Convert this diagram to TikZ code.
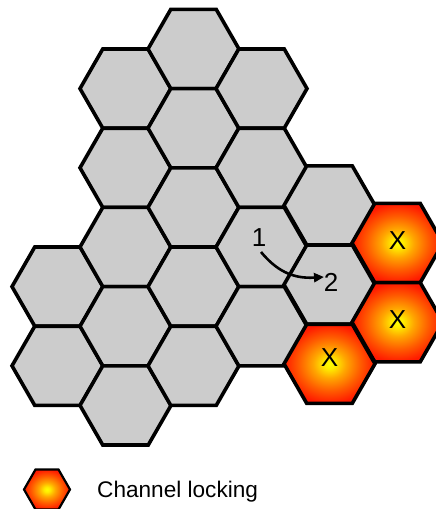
\documentclass[tikz,border=0pt]{standalone}
\usepackage{fontspec}
\setmainfont{Liberation Sans}
\usetikzlibrary{arrows.meta}
\definecolor{cellgrey}{RGB}{204,204,204}
\pgfdeclareradialshading{lockshade}{\pgfpoint{0bp}{0bp}}{rgb(0bp)=(1,1,0); rgb(3bp)=(1,0.93,0); rgb(9bp)=(1,0.65,0); rgb(17bp)=(1,0.36,0); rgb(25bp)=(1,0.1,0); rgb(50bp)=(1,0.06,0)}
\tikzset{
  hexline/.style={line width=3.6pt},
  greyhex/.pic={\draw[hexline, fill=cellgrey] (-45.5,0) -- (-22.75,-39.6) -- (22.75,-39.6) -- (45.5,0) -- (22.75,39.6) -- (-22.75,39.6) -- cycle;},
  lockhex/.pic={\draw[hexline, shading=lockshade] (-45.5,0) -- (-22.75,-39.6) -- (22.75,-39.6) -- (45.5,0) -- (22.75,39.6) -- (-22.75,39.6) -- cycle;},
  celltext/.style={inner sep=0pt, font=\fontsize{26}{30}\selectfont},
  legendtext/.style={inner sep=0pt, anchor=base west, font=\fontsize{22.6}{27}\selectfont},
  movearrow/.style={line width=2.6pt, -{Triangle[length=10pt,width=9pt]}}
}
\begin{document}
\begin{tikzpicture}[x=1pt,y=-1pt]
\useasboundingbox (0,0) rectangle (436,509);
\clip (0,0) rectangle (436,509);
% grey cells
\foreach \cx/\cy in {57.5/286.6, 57.5/365.8,
  125.5/88.6, 125.5/167.8, 125.5/247, 125.5/326.2, 125.5/405.4,
  193.5/49, 193.5/128.2, 193.5/207.4, 193.5/286.6, 193.5/365.8,
  261.5/88.6, 261.5/167.8, 261.5/247, 261.5/326.2,
  329.5/205.4, 329.5/284.6}
  \pic at (\cx,\cy) {greyhex};
% locked cells
\pic (lockA) at (397.5,243) {lockhex};
\pic (lockB) at (397.5,322.2) {lockhex};
\pic (lockC) at (329.5,363.8) {lockhex};
\node[celltext] (xA) at (397.5,241) {X};
\node[celltext] (xB) at (397.5,320) {X};
\node[celltext] (xC) at (329.5,358) {X};
% move arrow
\node[celltext] (one) at (259,238) {1};
\node[celltext] (two) at (331,282) {2};
\coordinate (a1) at (261,252);
\coordinate (a2) at (324,277);
\draw[movearrow] (a1) .. controls (276,270) and (292,279) .. (a2);
% legend
\pic[hexline/.style={line width=2.2pt}, scale=0.505] (legendhex) at (47,489.5) {lockhex};
\node[legendtext] (legend) at (97,497) {Channel locking};
\end{tikzpicture}
\end{document}
